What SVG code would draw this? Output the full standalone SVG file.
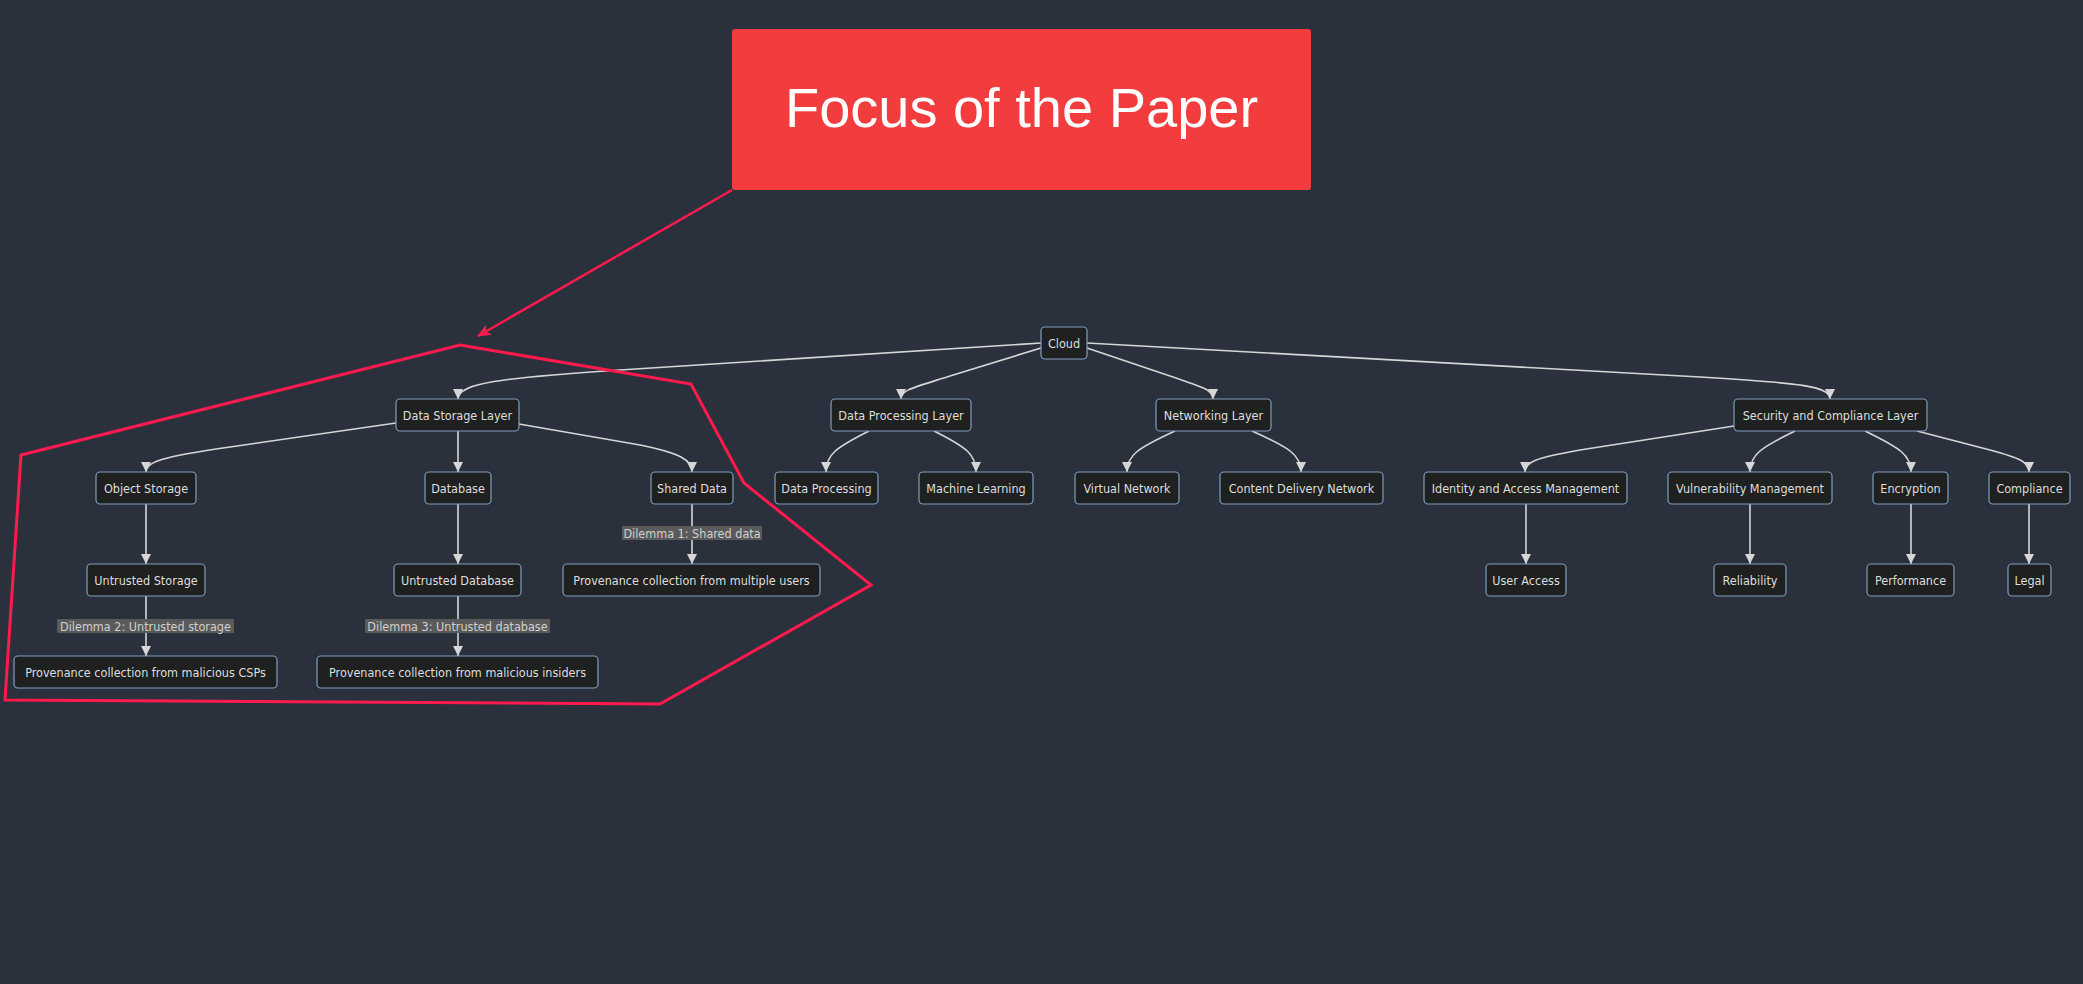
<svg xmlns="http://www.w3.org/2000/svg" width="2083" height="984" viewBox="0 0 2083 984">
<defs>
<style>
.node rect{fill:#1f2020;stroke:#7f9ec0;stroke-width:1.2}
.node text{fill:#dedede;font-family:"DejaVu Sans Condensed","DejaVu Sans","Liberation Sans",sans-serif;font-size:12.5px;text-anchor:middle;dominant-baseline:central}
.edge{fill:none;stroke:#d6d6d6;stroke-width:1.6}
.lbl rect{fill:#5a5a5a}
.lbl text{fill:#d0d0d0;font-family:"DejaVu Sans Condensed","DejaVu Sans","Liberation Sans",sans-serif;font-size:12.5px;text-anchor:middle;dominant-baseline:central}
</style>
<marker id="ah" viewBox="0 0 10 10" refX="10" refY="5" markerWidth="10" markerHeight="10" markerUnits="userSpaceOnUse" orient="auto">
<path d="M0,0 L10,5 L0,10 z" fill="#d6d6d6"/>
</marker>
<marker id="rh" viewBox="0 0 14 12" refX="13" refY="6" markerWidth="14" markerHeight="12" markerUnits="userSpaceOnUse" orient="auto">
<path d="M0,0 L14,6 L0,12 L4,6 z" fill="#ff1a4d"/>
</marker>
</defs>
<rect width="2083" height="984" fill="#2a303c"/>

<g id="connectors">
<path class="edge" d="M1041,343 L620,370 C500,378 458,383 458,399" marker-end="url(#ah)"/>
<path class="edge" d="M1041,348 L950,376 C912,388 901,390 901,399" marker-end="url(#ah)"/>
<path class="edge" d="M1087,348 L1170,376 C1205,388 1213,390 1213,399" marker-end="url(#ah)"/>
<path class="edge" d="M1087,343 L1700,377 C1800,383 1830,386 1830,399" marker-end="url(#ah)"/>
<path class="edge" d="M396,423 L230,447 C160,457 146,462 146,472" marker-end="url(#ah)"/>
<path class="edge" d="M458,431 L458,472" marker-end="url(#ah)"/>
<path class="edge" d="M519,424 L640,445 C680,453 692,460 692,472" marker-end="url(#ah)"/>
<path class="edge" d="M146,504 L146,564" marker-end="url(#ah)"/>
<path class="edge" d="M458,504 L458,564" marker-end="url(#ah)"/>
<path class="edge" d="M692,504 L692,564" marker-end="url(#ah)"/>
<path class="edge" d="M146,596 L146,656" marker-end="url(#ah)"/>
<path class="edge" d="M458,596 L458,656" marker-end="url(#ah)"/>
<path class="edge" d="M869,431 C835,448 826,455 826,472" marker-end="url(#ah)"/>
<path class="edge" d="M934,431 C968,448 976,455 976,472" marker-end="url(#ah)"/>
<path class="edge" d="M1175,431 C1138,448 1127,455 1127,472" marker-end="url(#ah)"/>
<path class="edge" d="M1252,431 C1290,448 1301,455 1301,472" marker-end="url(#ah)"/>
<path class="edge" d="M1734,426 L1580,450 C1535,458 1525,462 1525,472" marker-end="url(#ah)"/>
<path class="edge" d="M1795,431 C1760,448 1750,455 1750,472" marker-end="url(#ah)"/>
<path class="edge" d="M1865,431 C1900,448 1911,455 1911,472" marker-end="url(#ah)"/>
<path class="edge" d="M1917,431 L1990,450 C2020,458 2029,462 2029,472" marker-end="url(#ah)"/>
<path class="edge" d="M1526,504 L1526,564" marker-end="url(#ah)"/>
<path class="edge" d="M1750,504 L1750,564" marker-end="url(#ah)"/>
<path class="edge" d="M1911,504 L1911,564" marker-end="url(#ah)"/>
<path class="edge" d="M2029,504 L2029,564" marker-end="url(#ah)"/>
<g class="lbl"><rect x="622" y="526" width="140" height="14"/><text x="692" y="533">Dilemma 1: Shared data</text></g>
<g class="lbl"><rect x="57" y="619" width="177" height="14"/><text x="145.5" y="626">Dilemma 2: Untrusted storage</text></g>
<g class="lbl"><rect x="365" y="619" width="185" height="14"/><text x="457.5" y="626">Dilemma 3: Untrusted database</text></g>
</g>

<g id="n-cloud" class="node"><rect x="1041" y="327" width="46" height="32" rx="4"/><text x="1064" y="343">Cloud</text></g>
<g id="n-dsl" class="node"><rect x="396" y="399" width="123" height="32" rx="4"/><text x="457.5" y="415">Data Storage Layer</text></g>
<g id="n-dpl" class="node"><rect x="831" y="399" width="140" height="32" rx="4"/><text x="901" y="415">Data Processing Layer</text></g>
<g id="n-nl" class="node"><rect x="1156" y="399" width="115" height="32" rx="4"/><text x="1213.5" y="415">Networking Layer</text></g>
<g id="n-scl" class="node"><rect x="1734" y="399" width="193" height="32" rx="4"/><text x="1830.5" y="415">Security and Compliance Layer</text></g>

<g id="n-os" class="node"><rect x="96" y="472" width="100" height="32" rx="4"/><text x="146" y="488">Object Storage</text></g>
<g id="n-db" class="node"><rect x="425" y="472" width="66" height="32" rx="4"/><text x="458" y="488">Database</text></g>
<g id="n-sd" class="node"><rect x="651" y="472" width="82" height="32" rx="4"/><text x="692" y="488">Shared Data</text></g>
<g id="n-dp" class="node"><rect x="775" y="472" width="103" height="32" rx="4"/><text x="826.5" y="488">Data Processing</text></g>
<g id="n-ml" class="node"><rect x="919" y="472" width="114" height="32" rx="4"/><text x="976" y="488">Machine Learning</text></g>
<g id="n-vn" class="node"><rect x="1075" y="472" width="104" height="32" rx="4"/><text x="1127" y="488">Virtual Network</text></g>
<g id="n-cdn" class="node"><rect x="1220" y="472" width="163" height="32" rx="4"/><text x="1301.5" y="488">Content Delivery Network</text></g>
<g id="n-iam" class="node"><rect x="1424" y="472" width="203" height="32" rx="4"/><text x="1525.5" y="488">Identity and Access Management</text></g>
<g id="n-vm" class="node"><rect x="1668" y="472" width="164" height="32" rx="4"/><text x="1750" y="488">Vulnerability Management</text></g>
<g id="n-enc" class="node"><rect x="1873" y="472" width="75" height="32" rx="4"/><text x="1910.5" y="488">Encryption</text></g>
<g id="n-comp" class="node"><rect x="1989" y="472" width="81" height="32" rx="4"/><text x="2029.5" y="488">Compliance</text></g>

<g id="n-us" class="node"><rect x="87" y="564" width="118" height="32" rx="4"/><text x="146" y="580">Untrusted Storage</text></g>
<g id="n-ud" class="node"><rect x="394" y="564" width="127" height="32" rx="4"/><text x="457.5" y="580">Untrusted Database</text></g>
<g id="n-pmu" class="node"><rect x="563" y="564" width="257" height="32" rx="4"/><text x="691.5" y="580">Provenance collection from multiple users</text></g>
<g id="n-ua" class="node"><rect x="1486" y="564" width="80" height="32" rx="4"/><text x="1526" y="580">User Access</text></g>
<g id="n-rel" class="node"><rect x="1714" y="564" width="72" height="32" rx="4"/><text x="1750" y="580">Reliability</text></g>
<g id="n-perf" class="node"><rect x="1867" y="564" width="87" height="32" rx="4"/><text x="1910.5" y="580">Performance</text></g>
<g id="n-legal" class="node"><rect x="2008" y="564" width="43" height="32" rx="4"/><text x="2029.5" y="580">Legal</text></g>

<g id="n-csp" class="node"><rect x="14" y="656" width="263" height="32" rx="4"/><text x="145.5" y="672">Provenance collection from malicious CSPs</text></g>
<g id="n-ins" class="node"><rect x="317" y="656" width="281" height="32" rx="4"/><text x="457.5" y="672">Provenance collection from malicious insiders</text></g>

<g id="focus">
<polygon points="460,345 691,384 744,483 871,585 660,704 5,700 21,455" fill="none" stroke="#ff1a4d" stroke-width="3" stroke-linejoin="miter"/>
<path d="M732,190 L478,336" fill="none" stroke="#ff1a4d" stroke-width="2.5" marker-end="url(#rh)"/>
<rect x="732" y="29" width="579" height="161" rx="3" fill="#f23c3e"/>
<text x="1021.5" y="127" font-family="Liberation Sans, Arial, sans-serif" font-size="56" fill="#ffffff" text-anchor="middle">Focus of the Paper</text>
</g>
</svg>
